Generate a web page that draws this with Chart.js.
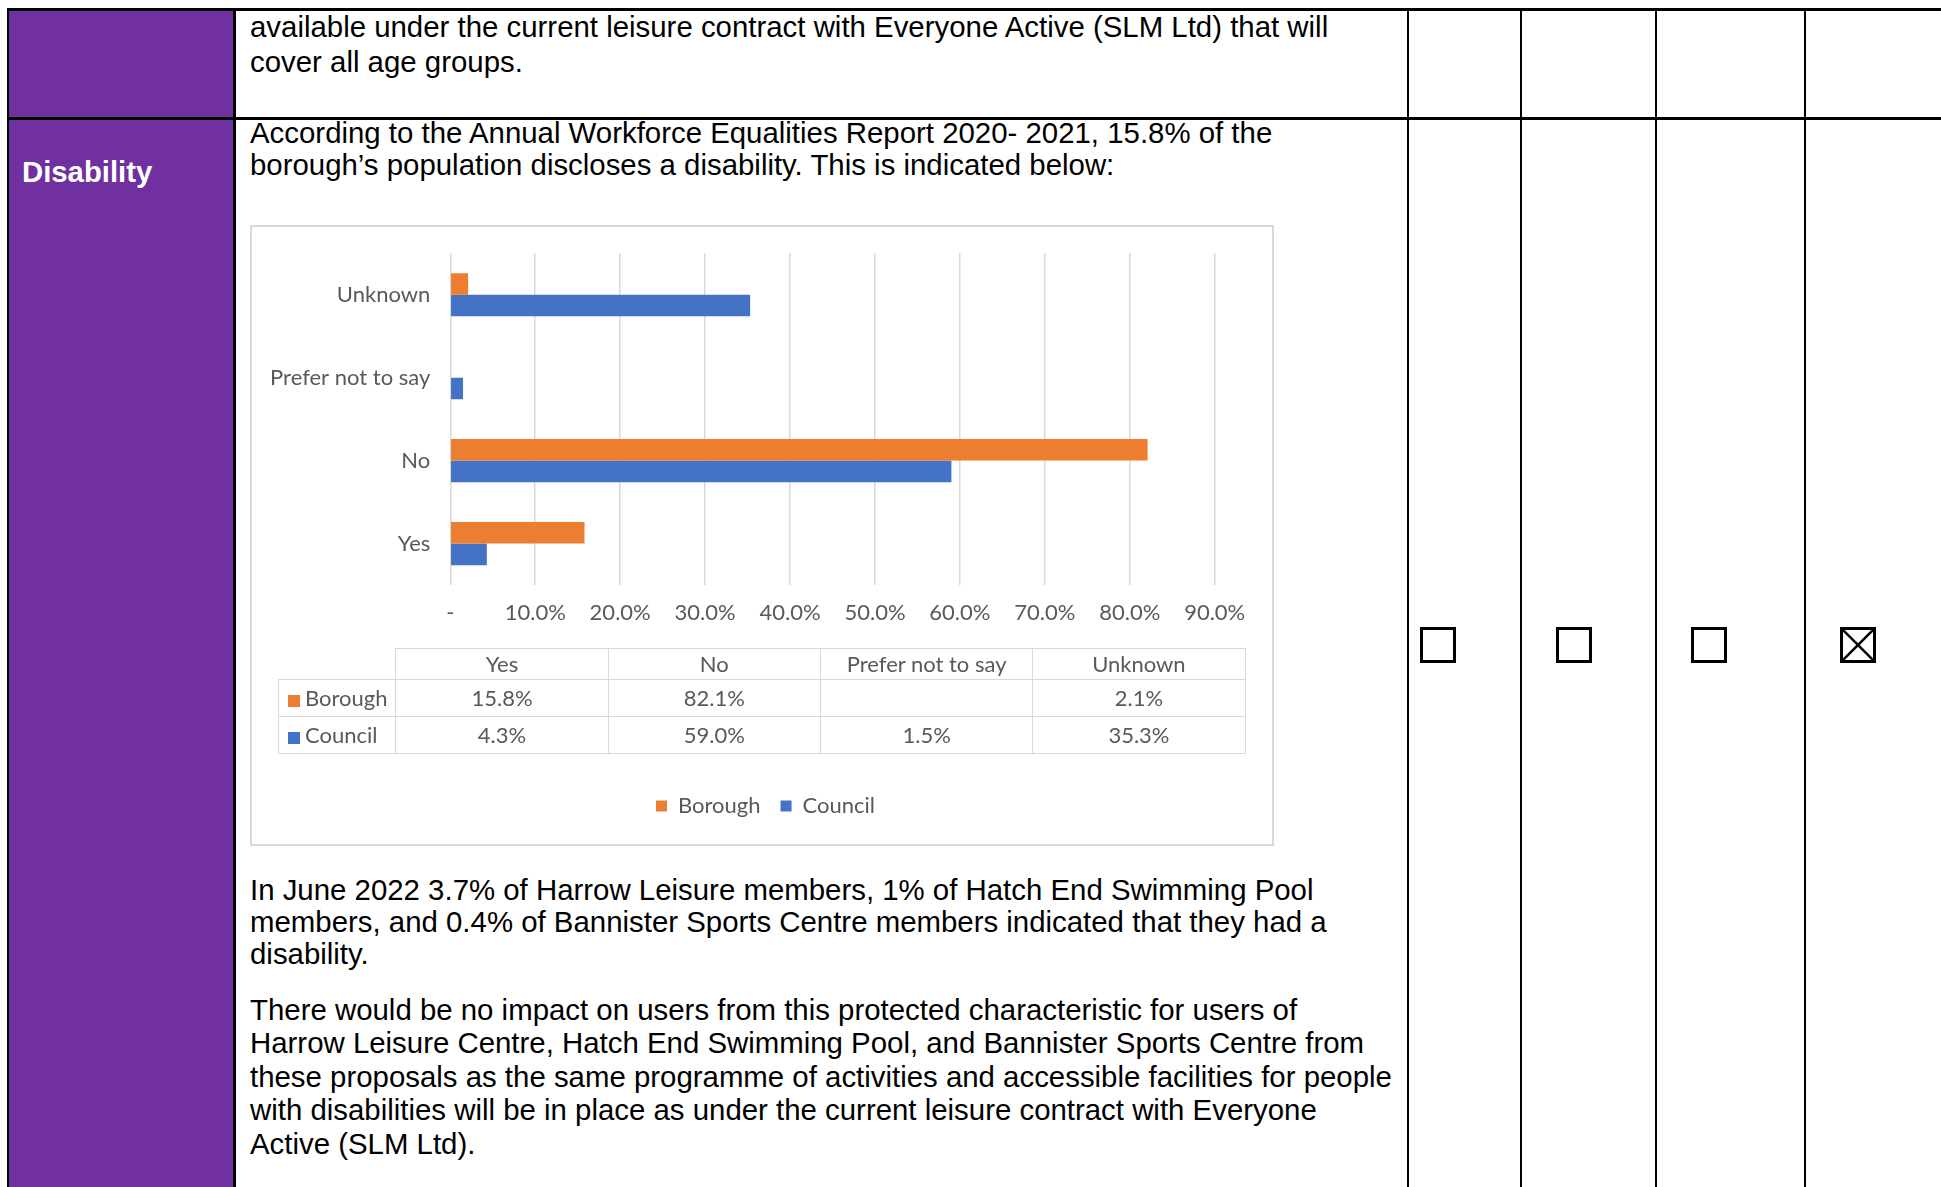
<!DOCTYPE html>
<html>
<head>
<meta charset="utf-8">
<script src="https://cdn.jsdelivr.net/npm/chart.js@4.4.1/dist/chart.umd.min.js"></script>
<style>
html,body{margin:0;padding:0;background:#fff;width:1941px;height:1187px;overflow:hidden;}
body{position:relative;font-family:"Liberation Sans",Arial,sans-serif;}
.ln{position:absolute;background:#000;}
.purple{position:absolute;left:9px;top:10px;width:225px;height:1177px;background:#7030A0;}
.t{position:absolute;left:250px;font-size:29.4px;line-height:33px;color:#000;white-space:nowrap;}
.dis{position:absolute;left:22px;top:155px;font-size:29.3px;line-height:33px;color:#fff;font-weight:bold;white-space:nowrap;}
#frame{position:absolute;left:250px;top:225px;width:1024px;height:621px;border:2px solid #D9D9D9;box-sizing:border-box;}
#wrap{position:absolute;left:251px;top:226px;width:1022px;height:619px;}
#dt{position:absolute;left:278px;top:648px;border-collapse:collapse;font-family:Lato,"Noto Sans",sans-serif;font-size:22px;color:#595959;table-layout:fixed;}
#dt td{border:1.5px solid #D9D9D9;text-align:center;padding:0 0 2px 0;white-space:nowrap;}
#dt tr.h td{height:28px;}
#dt tr.r td{height:34px;}
#dt td.key{text-align:left;padding-left:9px;}
#dt td.blank{border-top-style:hidden;border-left-style:hidden;}
.sw{display:inline-block;width:12px;height:12px;margin-right:5px;vertical-align:-1px;}
.cb{position:absolute;top:627px;width:36px;height:36px;border:3px solid #000;box-sizing:border-box;}
</style>
</head>
<body>
<div class="purple"></div>
<!-- table grid lines -->
<div class="ln" style="left:7px;top:8px;width:1934px;height:2.5px;"></div>
<div class="ln" style="left:7px;top:117px;width:1934px;height:2.5px;"></div>
<div class="ln" style="left:7px;top:8px;width:2.2px;height:1179px;"></div>
<div class="ln" style="left:233.3px;top:8px;width:2.5px;height:1179px;"></div>
<div class="ln" style="left:1406.5px;top:8px;width:2px;height:1179px;"></div>
<div class="ln" style="left:1519.6px;top:8px;width:2px;height:1179px;"></div>
<div class="ln" style="left:1654.8px;top:8px;width:2px;height:1179px;"></div>
<div class="ln" style="left:1804px;top:8px;width:2px;height:1179px;"></div>

<div class="dis">Disability</div>

<div class="t" style="top:10px;">available under the current leisure contract with Everyone Active (SLM Ltd) that will</div>
<div class="t" style="top:44.8px;">cover all age groups.</div>
<div class="t" style="top:116px;">According to the Annual Workforce Equalities Report 2020- 2021, 15.8% of the</div>
<div class="t" style="top:147.8px;">borough’s population discloses a disability. This is indicated below:</div>

<div id="frame"></div>
<div id="wrap"><canvas id="c"></canvas></div>
<table id="dt"></table>

<div class="t" style="top:872.5px;">In June 2022 3.7% of Harrow Leisure members, 1% of Hatch End Swimming Pool</div>
<div class="t" style="top:904.7px;">members, and 0.4% of Bannister Sports Centre members indicated that they had a</div>
<div class="t" style="top:936.7px;">disability.</div>
<div class="t" style="top:993px;">There would be no impact on users from this protected characteristic for users of</div>
<div class="t" style="top:1026.3px;">Harrow Leisure Centre, Hatch End Swimming Pool, and Bannister Sports Centre from</div>
<div class="t" style="top:1059.7px;">these proposals as the same programme of activities and accessible facilities for people</div>
<div class="t" style="top:1093px;">with disabilities will be in place as under the current leisure contract with Everyone</div>
<div class="t" style="top:1127px;">Active (SLM Ltd).</div>

<div class="cb" style="left:1420px;"></div>
<div class="cb" style="left:1556px;"></div>
<div class="cb" style="left:1691px;"></div>
<div class="cb" style="left:1840px;"><svg width="30" height="30" style="position:absolute;left:0;top:0"><line x1="0" y1="0" x2="30" y2="30" stroke="#000" stroke-width="2.5"/><line x1="30" y1="0" x2="0" y2="30" stroke="#000" stroke-width="2.5"/></svg></div>

<script>
// ---- data ----
const categories = ['Yes', 'No', 'Prefer not to say', 'Unknown'];
const seriesNames = ['Borough', 'Council'];
const boroughValues = [15.8, 82.1, null, 2.1];
const councilValues = [4.3, 59.0, 1.5, 35.3];
const xTickLabels = ['-', '10.0%', '20.0%', '30.0%', '40.0%', '50.0%', '60.0%', '70.0%', '80.0%', '90.0%'];

const ORANGE = '#ED7D31', BLUE = '#4472C4', GREY_TXT = '#595959';
const FONT = {family: 'Lato, "Noto Sans", sans-serif', size: 22};

// ---- data table (built from the arrays) ----
(function buildTable(){
  const t = document.getElementById('dt');
  const cg = document.createElement('colgroup');
  [117.4, 212.3, 212.3, 212.3, 212.3].forEach(w => {
    const c = document.createElement('col'); c.style.width = w + 'px'; cg.appendChild(c);
  });
  t.appendChild(cg);
  const h = document.createElement('tr'); h.className = 'h';
  const b = document.createElement('td'); b.className = 'blank'; h.appendChild(b);
  categories.forEach(cat => { const td = document.createElement('td'); td.textContent = cat; h.appendChild(td); });
  t.appendChild(h);
  [[seriesNames[0], boroughValues, ORANGE], [seriesNames[1], councilValues, BLUE]].forEach(([name, vals, col]) => {
    const tr = document.createElement('tr'); tr.className = 'r';
    const k = document.createElement('td'); k.className = 'key';
    const sw = document.createElement('span'); sw.className = 'sw'; sw.style.background = col;
    k.appendChild(sw); k.appendChild(document.createTextNode(name));
    tr.appendChild(k);
    vals.forEach(v => { const td = document.createElement('td'); td.textContent = v == null ? '' : v.toFixed(1) + '%'; tr.appendChild(td); });
    t.appendChild(tr);
  });
})();

function makeChart(){
  new Chart(document.getElementById('c'), {
    type: 'bar',
    data: {
      labels: categories,
      datasets: [
        {label: seriesNames[0], data: boroughValues, backgroundColor: ORANGE, borderWidth: 0, categoryPercentage: 0.521, barPercentage: 1},
        {label: seriesNames[1], data: councilValues, backgroundColor: BLUE, borderWidth: 0, categoryPercentage: 0.521, barPercentage: 1}
      ]
    },
    options: {
      indexAxis: 'y',
      responsive: true,
      maintainAspectRatio: false,
      animation: false,
      devicePixelRatio: 1,
      layout: {padding: {top: 27.3, right: 0, bottom: 18, left: 7}},
      scales: {
        x: {
          min: 0, max: 90,
          ticks: {stepSize: 10, autoSkip: false, maxRotation: 0, padding: 15, color: GREY_TXT, font: FONT,
                  callback: (v, i) => xTickLabels[i]},
          grid: {color: '#D9D9D9', lineWidth: 1.5, drawTicks: false},
          border: {display: false},
          afterFit: s => { s.height = 190; s.paddingLeft = 0; s.paddingRight = 58.3; }
        },
        y: {
          reverse: true,
          ticks: {padding: 20, color: GREY_TXT, font: FONT},
          grid: {display: false, drawTicks: false},
          border: {display: false},
          afterFit: s => { s.width = 192.3; s.paddingTop = 0; s.paddingBottom = 0; }
        }
      },
      plugins: {
        legend: {position: 'bottom', labels: {boxWidth: 11, boxHeight: 11, padding: 20, color: GREY_TXT, font: FONT}},
        tooltip: {enabled: false}
      }
    }
  });
}
if (document.fonts && document.fonts.load) {
  Promise.all([document.fonts.load('22px Lato'), document.fonts.load('29px "Liberation Sans"')]).then(makeChart, makeChart);
} else { makeChart(); }
</script>
</body>
</html>
